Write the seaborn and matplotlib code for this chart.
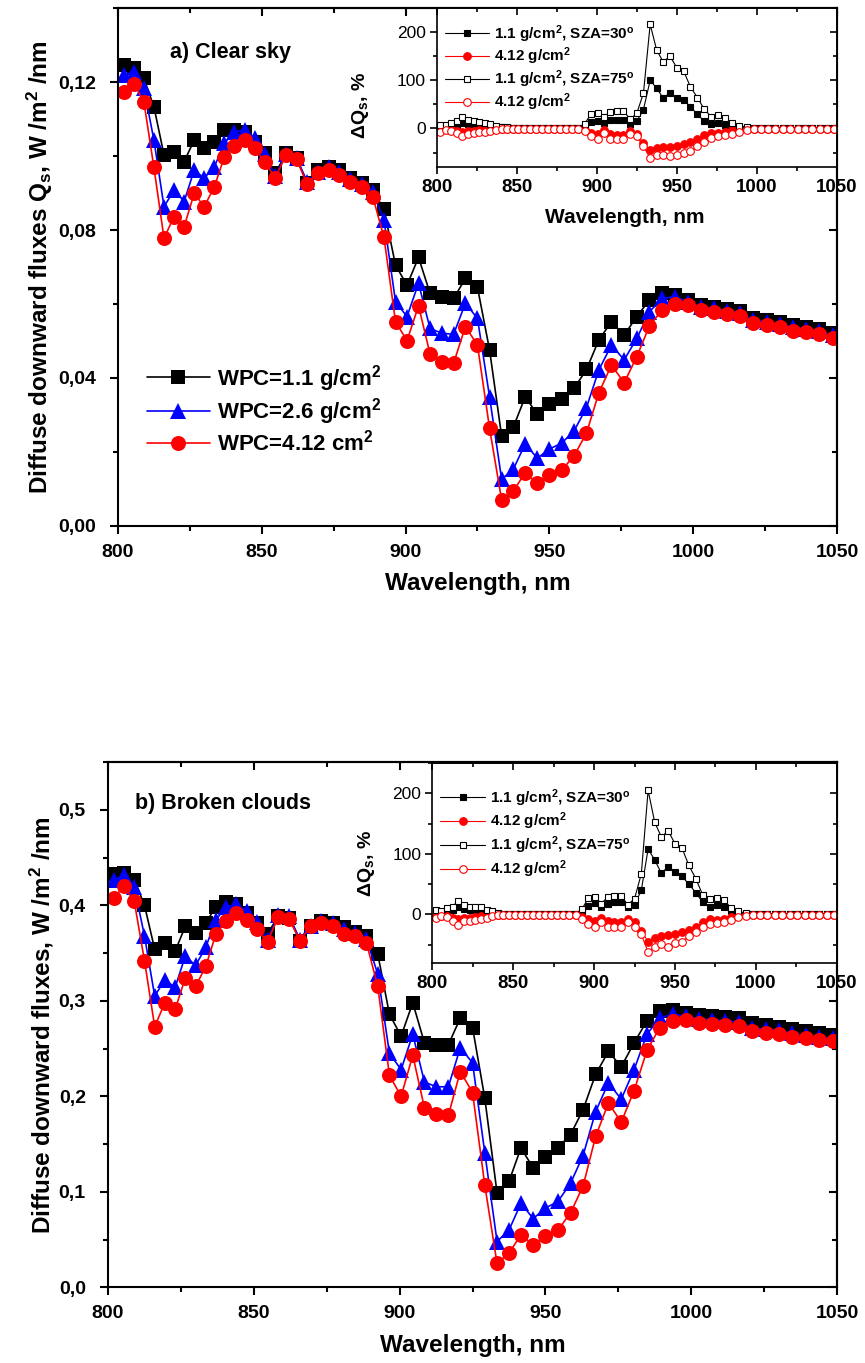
import matplotlib
matplotlib.use("Agg")
import matplotlib.pyplot as plt
import seaborn as sns
import pandas as pd
from matplotlib.ticker import MultipleLocator, FuncFormatter

# wavelength grid, nm
wl = [802, 805.5, 809, 812.5, 816, 819.5, 823, 826.5, 830, 833.5, 837, 840.5, 844, 847.5, 851,
      854.7, 858.4, 862.1, 865.8, 869.5, 873.2, 877, 880.8, 884.7, 888.6, 892.5,
      896.5, 900.5, 904.5, 908.5, 912.6, 916.7, 920.8, 925,
      929.2, 933.4, 937.5, 941.6, 945.8, 950,
      954.3, 958.6, 962.9, 967.2, 971.6, 976,
      980.4, 984.8, 989.2, 993.7, 998.2,
      1002.7, 1007.2, 1011.7, 1016.3, 1020.9, 1025.5, 1030.1, 1034.7, 1039.3, 1043.9, 1048.5]

# a) clear sky, W/m2/nm
clear_11 = [0.1246, 0.1237, 0.1210, 0.1133, 0.1003, 0.1012, 0.0985, 0.1043, 0.1021, 0.1039, 0.1070, 0.1070, 0.1066, 0.1039, 0.1007,
            0.0953, 0.1007, 0.0994, 0.0926, 0.0962, 0.0971, 0.0962, 0.0940, 0.0926, 0.0908, 0.0856,
            0.0705, 0.0651, 0.0726, 0.0629, 0.0620, 0.0615, 0.0669, 0.0645,
            0.0476, 0.0243, 0.0268, 0.0349, 0.0302, 0.0330,
            0.0343, 0.0372, 0.0423, 0.0503, 0.0552, 0.0516,
            0.0566, 0.0611, 0.0629, 0.0624, 0.0612,
            0.0598, 0.0593, 0.0587, 0.0582, 0.0562, 0.0557, 0.0552, 0.0542, 0.0538, 0.0532, 0.0521]
clear_26 = [0.1219, 0.1228, 0.1183, 0.1043, 0.0863, 0.0908, 0.0877, 0.0962, 0.0940, 0.0971, 0.1034, 0.1066, 0.1070, 0.1048, 0.1005,
            0.0945, 0.1005, 0.0995, 0.0930, 0.0958, 0.0970, 0.0958, 0.0938, 0.0925, 0.0903, 0.0827,
            0.0606, 0.0566, 0.0656, 0.0534, 0.0521, 0.0518, 0.0602, 0.0561,
            0.0349, 0.0126, 0.0154, 0.0222, 0.0183, 0.0208,
            0.0224, 0.0257, 0.0320, 0.0422, 0.0489, 0.0449,
            0.0507, 0.0579, 0.0615, 0.0620, 0.0606,
            0.0593, 0.0588, 0.0582, 0.0577, 0.0557, 0.0552, 0.0547, 0.0537, 0.0533, 0.0527, 0.0516]
clear_412 = [0.1174, 0.1196, 0.1147, 0.0969, 0.0778, 0.0836, 0.0809, 0.0899, 0.0863, 0.0917, 0.0998, 0.1027, 0.1043, 0.1021, 0.0985,
             0.0940, 0.1003, 0.0991, 0.0924, 0.0953, 0.0962, 0.0949, 0.0931, 0.0917, 0.0890, 0.0780,
             0.0552, 0.0501, 0.0595, 0.0465, 0.0444, 0.0440, 0.0539, 0.0489,
             0.0264, 0.0070, 0.0095, 0.0144, 0.0115, 0.0138,
             0.0151, 0.0190, 0.0251, 0.0360, 0.0435, 0.0387,
             0.0458, 0.0541, 0.0584, 0.0600, 0.0597,
             0.0584, 0.0579, 0.0573, 0.0568, 0.0548, 0.0543, 0.0539, 0.0528, 0.0525, 0.0519, 0.0507]

# b) broken clouds, W/m2/nm
cloud_11 = [0.433, 0.434, 0.427, 0.400, 0.354, 0.361, 0.352, 0.378, 0.371, 0.382, 0.398, 0.403, 0.401, 0.392, 0.382,
            0.370, 0.389, 0.387, 0.363, 0.378, 0.384, 0.382, 0.377, 0.372, 0.368, 0.349,
            0.286, 0.263, 0.298, 0.256, 0.254, 0.254, 0.282, 0.272,
            0.198, 0.099, 0.111, 0.146, 0.125, 0.137,
            0.146, 0.160, 0.186, 0.223, 0.247, 0.231,
            0.256, 0.279, 0.289, 0.290, 0.287,
            0.285, 0.284, 0.283, 0.282, 0.277, 0.275, 0.273, 0.270, 0.268, 0.266, 0.264]
cloud_26 = [0.426, 0.432, 0.419, 0.368, 0.305, 0.322, 0.314, 0.347, 0.337, 0.356, 0.385, 0.398, 0.401, 0.394, 0.383,
            0.364, 0.390, 0.389, 0.364, 0.378, 0.384, 0.381, 0.375, 0.371, 0.365, 0.328,
            0.245, 0.228, 0.265, 0.215, 0.210, 0.210, 0.251, 0.235,
            0.141, 0.048, 0.060, 0.088, 0.072, 0.083,
            0.090, 0.109, 0.138, 0.184, 0.214, 0.197,
            0.228, 0.265, 0.282, 0.286, 0.284,
            0.281, 0.280, 0.279, 0.278, 0.272, 0.270, 0.269, 0.266, 0.264, 0.262, 0.261]
cloud_412 = [0.408, 0.420, 0.404, 0.342, 0.273, 0.298, 0.291, 0.324, 0.315, 0.336, 0.370, 0.384, 0.392, 0.385, 0.375,
             0.362, 0.388, 0.386, 0.363, 0.378, 0.382, 0.378, 0.370, 0.368, 0.361, 0.315,
             0.222, 0.200, 0.243, 0.188, 0.181, 0.180, 0.226, 0.204,
             0.107, 0.025, 0.036, 0.055, 0.044, 0.054,
             0.060, 0.078, 0.106, 0.158, 0.193, 0.173,
             0.206, 0.248, 0.272, 0.279, 0.280,
             0.277, 0.276, 0.275, 0.274, 0.268, 0.266, 0.265, 0.262, 0.261, 0.259, 0.258]

# insets: dQs, %
dq_clear_11_30 = [3, 4, 6, 8, 12, 9, 9, 8, 6, 4, 3, 2, 1, 0.5, 0.5,
                  0.5, 0.5, 0.5, 0.5, 0.5, 0.5, 0.5, 0.5, 0.5, 0.5, 5,
                  14, 15, 11, 17, 18, 18, 9, 15,
                  39, 100, 83, 63, 74, 63,
                  59, 45, 29, 15, 9, 11,
                  7, 4, 2, 1, 0.5,
                  0.5, 0.5, 0.5, 0.5, 0.5, 0.5, 0.5, 0.5, 0.5, 0.5, 0.5]
dq_clear_412_30 = [-3, -2, -2, -5, -8, -6, -5, -4, -3, -2, -1, -1, -0.5, -0.5, -0.5,
                   -0.5, -0.5, -0.5, -0.5, -0.5, -0.5, -0.5, -0.5, -0.5, -0.5, -3,
                   -9, -11, -4, -12, -13, -13, -5, -12,
                   -30, -44, -40, -38, -38, -36,
                   -33, -28, -22, -14, -9, -10,
                   -7, -4, -2, -1, -0.5,
                   -0.5, -0.5, -0.5, -0.5, -0.5, -0.5, -0.5, -0.5, -0.5, -0.5, -0.5]
dq_clear_11_75 = [7, 8, 12, 16, 23, 17, 16, 14, 12, 9, 5, 3, 2, 1, 1,
                  1, 1, 1, 1, 1, 1, 1, 1, 1, 1, 10,
                  30, 32, 24, 35, 37, 37, 19, 31,
                  73, 216, 162, 138, 150, 126,
                  119, 86, 64, 40, 24, 27,
                  21, 12, 6, 2, 1,
                  1, 1, 1, 1, 1, 1, 1, 1, 1, 1, 1]
dq_clear_412_75 = [-7, -4, -5, -10, -16, -12, -10, -8, -7, -5, -3, -1, -0.5, -0.5, -0.5,
                   -0.5, -0.5, -0.5, -0.5, -0.5, -0.5, -0.5, -0.5, -0.5, -0.5, -5,
                   -16, -21, -10, -21, -21, -21, -12, -16,
                   -37, -62, -56, -55, -58, -56,
                   -51, -47, -37, -28, -19, -16,
                   -14, -12, -7, -3, -1,
                   -0.5, -0.5, -0.5, -0.5, -0.5, -0.5, -0.5, -0.5, -0.5, -0.5, -0.5]

dq_cloud_11_30 = [3, 3, 5, 8, 12, 9, 8, 7, 6, 4, 3, 1, 0.5, 0.5, 0.5,
                  0.5, 0.5, 0.5, 0.5, 0.5, 0.5, 0.5, 0.5, 0.5, 0.5, 4,
                  14, 19, 12, 18, 21, 21, 13, 16,
                  40, 108, 90, 68, 79, 70,
                  63, 50, 36, 20, 13, 15,
                  12, 6, 2, 1, 0.5,
                  0.5, 0.5, 0.5, 0.5, 0.5, 0.5, 0.5, 0.5, 0.5, 0.5, 0.5]
dq_cloud_412_30 = [-3, -2, -2, -5, -8, -6, -5, -4, -3, -2, -1, -1, -0.5, -0.5, -0.5,
                   -0.5, -0.5, -0.5, -0.5, -0.5, -0.5, -0.5, -0.5, -0.5, -0.5, -4,
                   -8, -10, -6, -11, -12, -12, -7, -12,
                   -27, -45, -38, -35, -34, -33,
                   -29, -25, -20, -13, -8, -9,
                   -7, -4, -2, -1, -0.5,
                   -0.5, -0.5, -0.5, -0.5, -0.5, -0.5, -0.5, -0.5, -0.5, -0.5, -0.5]
dq_cloud_11_75 = [7, 6, 10, 13, 23, 16, 13, 13, 12, 8, 5, 2, 1, 1, 1,
                  1, 1, 1, 1, 1, 1, 1, 1, 1, 1, 9,
                  27, 29, 18, 29, 31, 31, 16, 26,
                  67, 205, 152, 128, 138, 117,
                  110, 81, 59, 32, 25, 27,
                  24, 10, 5, 2, 1,
                  1, 1, 1, 1, 1, 1, 1, 1, 1, 1, 1]
dq_cloud_412_75 = [-6, -3, -4, -10, -17, -11, -10, -9, -7, -6, -3, -1, -0.5, -0.5, -0.5,
                   -0.5, -0.5, -0.5, -0.5, -0.5, -0.5, -0.5, -0.5, -0.5, -0.5, -8,
                   -15, -20, -13, -20, -21, -21, -13, -20,
                   -33, -62, -53, -49, -53, -47,
                   -45, -36, -29, -20, -15, -14,
                   -13, -9, -4, -2, -0.5,
                   -0.5, -0.5, -0.5, -0.5, -0.5, -0.5, -0.5, -0.5, -0.5, -0.5, -0.5]

main_labels = ["WPC=1.1 g/cm$^2$", "WPC=2.6 g/cm$^2$", "WPC=4.12 cm$^2$"]
inset_labels = ["1.1 g/cm$^2$, SZA=30$^o$", "4.12 g/cm$^2$", "1.1 g/cm$^2$, SZA=75$^o$", "4.12 g/cm$^2$"]

sns.set_style("ticks")
plt.rcParams["font.family"] = ["Liberation Sans", "DejaVu Sans"]
plt.rcParams["font.weight"] = "bold"
plt.rcParams["mathtext.fontset"] = "custom"
plt.rcParams["mathtext.rm"] = "Liberation Sans:bold"
plt.rcParams["mathtext.bf"] = "Liberation Sans:bold"
plt.rcParams["mathtext.it"] = "Liberation Sans:bold"
plt.rcParams["mathtext.default"] = "rm"
for key in ["text.color", "axes.labelcolor", "xtick.color", "ytick.color", "axes.edgecolor"]:
    plt.rcParams[key] = "black"


def mirror_ticks(ax, xmaj, xmin, ymaj, ymin, lw, lmaj, lmin):
    ax.xaxis.set_major_locator(MultipleLocator(xmaj))
    ax.xaxis.set_minor_locator(MultipleLocator(xmin))
    ax.yaxis.set_major_locator(MultipleLocator(ymaj))
    ax.yaxis.set_minor_locator(MultipleLocator(ymin))
    ax.tick_params(which="both", direction="out", top=False, right=False, width=lw)
    ax.tick_params(which="major", length=lmaj)
    ax.tick_params(which="minor", length=lmin)
    top = ax.secondary_xaxis("top")
    top.xaxis.set_major_locator(MultipleLocator(xmaj))
    top.xaxis.set_minor_locator(MultipleLocator(xmin))
    top.tick_params(which="both", direction="in", labeltop=False, width=lw)
    top.tick_params(which="major", length=lmaj)
    top.tick_params(which="minor", length=lmin)
    right = ax.secondary_yaxis("right")
    right.yaxis.set_major_locator(MultipleLocator(ymaj))
    right.yaxis.set_minor_locator(MultipleLocator(ymin))
    right.tick_params(which="both", direction="in", labelright=False, width=lw)
    right.tick_params(which="major", length=lmaj)
    right.tick_params(which="minor", length=lmin)
    for s in ax.spines.values():
        s.set_linewidth(lw)
    for s in list(top.spines.values()) + list(right.spines.values()):
        s.set_linewidth(lw)


def draw_main(ax, s11, s26, s412, ymax, ymaj, ymin, ndec, ylabel, tag, tag_xy, legend):
    df = pd.DataFrame({"wl": wl, "a": s11, "b": s26, "c": s412})
    sns.lineplot(data=df, x="wl", y="a", ax=ax, color="black", lw=1.2, marker="s", ms=9.5,
                 mec="black", mfc="black", mew=0, label=main_labels[0], errorbar=None)
    sns.lineplot(data=df, x="wl", y="b", ax=ax, color="blue", lw=1.2, marker="^", ms=11.5,
                 mec="blue", mfc="blue", mew=0, label=main_labels[1], errorbar=None)
    sns.lineplot(data=df, x="wl", y="c", ax=ax, color="red", lw=1.2, marker="o", ms=10.8,
                 mec="red", mfc="red", mew=0, label=main_labels[2], errorbar=None)
    ax.set_xlim(800, 1050)
    ax.set_ylim(0, ymax)
    mirror_ticks(ax, 50, 25, ymaj, ymin, 1.5, 6, 3.5)
    ax.yaxis.set_major_formatter(FuncFormatter(lambda v, p: f"{v:.{ndec}f}".replace(".", ",")))
    ax.tick_params(labelsize=14)
    ax.tick_params(axis="x", pad=7)
    ax.tick_params(axis="y", pad=10)
    for t in ax.get_xticklabels() + ax.get_yticklabels():
        t.set_fontweight("bold")
    ax.set_xlabel("Wavelength, nm", fontsize=17.5, fontweight="bold", labelpad=8)
    ax.set_ylabel(ylabel, fontsize=17.5, fontweight="bold", labelpad=2)
    ax.text(tag_xy[0], tag_xy[1], tag, transform=ax.transAxes, fontsize=15.5,
            fontweight="bold", va="center", ha="left")
    if legend:
        ax.legend(loc="upper left", bbox_to_anchor=(0.04, 0.315), frameon=False,
                  fontsize=16, handlelength=2.85, handletextpad=0.3, labelspacing=0.12,
                  borderpad=0, borderaxespad=0)
    else:
        ax.get_legend().remove()


def draw_inset(ax, f11, f412, o11, o412, leg_y, leg_sp, xlabel, ylab_xy):
    df = pd.DataFrame({"wl": wl, "a": f11, "b": f412, "c": o11, "d": o412})
    sns.lineplot(data=df, x="wl", y="a", ax=ax, color="black", lw=0.8, marker="s", ms=5,
                 mec="black", mfc="black", mew=0.8, label=inset_labels[0], errorbar=None)
    sns.lineplot(data=df, x="wl", y="b", ax=ax, color="red", lw=0.8, marker="o", ms=5.5,
                 mec="red", mfc="red", mew=0.8, label=inset_labels[1], errorbar=None)
    sns.lineplot(data=df, x="wl", y="c", ax=ax, color="black", lw=0.8, marker="s", ms=5,
                 mec="black", mfc="white", mew=0.8, label=inset_labels[2], errorbar=None)
    sns.lineplot(data=df, x="wl", y="d", ax=ax, color="red", lw=0.8, marker="o", ms=5.5,
                 mec="red", mfc="white", mew=0.8, label=inset_labels[3], errorbar=None)
    ax.set_xlim(800, 1050)
    ax.set_ylim(-80, 250)
    mirror_ticks(ax, 50, 25, 100, 50, 1.2, 5, 3)
    ax.tick_params(axis="x", labelsize=13.5, pad=4)
    ax.tick_params(axis="y", labelsize=12.5, pad=3)
    for t in ax.get_xticklabels():
        t.set_fontweight("bold")
    for t in ax.get_yticklabels():
        t.set_fontweight("normal")
    ax.set_xlabel(xlabel, fontsize=15, fontweight="bold")
    ax.xaxis.set_label_coords(0.47, -0.26)
    ax.set_ylabel("ΔQ$_s$, %", fontsize=14, fontweight="bold")
    ax.yaxis.set_label_coords(*ylab_xy)
    ax.legend(loc="upper left", bbox_to_anchor=(0.02, leg_y), frameon=False,
              fontsize=11, handlelength=2.9, handletextpad=0.35, labelspacing=leg_sp,
              borderpad=0, borderaxespad=0)


fig = plt.figure(figsize=(8.65, 13.63), dpi=100)

ax1 = fig.add_axes([0.1364, 0.6141, 0.8312, 0.3800])
draw_main(ax1, clear_11, clear_26, clear_412, 0.14, 0.04, 0.02, 2,
          "Diffuse downward fluxes Q$_s$, W /m$^2$ /nm", "a) Clear sky", (0.072, 0.915), True)
ins1 = fig.add_axes([0.5049, 0.8775, 0.4624, 0.1167])
draw_inset(ins1, dq_clear_11_30, dq_clear_412_30, dq_clear_11_75, dq_clear_412_75, 0.905, 0.08,
           "Wavelength, nm", (-0.165, 0.39))

ax2 = fig.add_axes([0.1249, 0.0555, 0.8428, 0.3854])
draw_main(ax2, cloud_11, cloud_26, cloud_412, 0.55, 0.1, 0.05, 1,
          "Diffuse downward fluxes, W /m$^2$ /nm", "b) Broken clouds", (0.037, 0.922), False)
ins2 = fig.add_axes([0.4998, 0.2935, 0.4675, 0.1467])
draw_inset(ins2, dq_cloud_11_30, dq_cloud_412_30, dq_cloud_11_75, dq_cloud_412_75, 0.88, 0.15,
           "", (-0.137, 0.5))

fig.savefig("out.png", dpi=100)
